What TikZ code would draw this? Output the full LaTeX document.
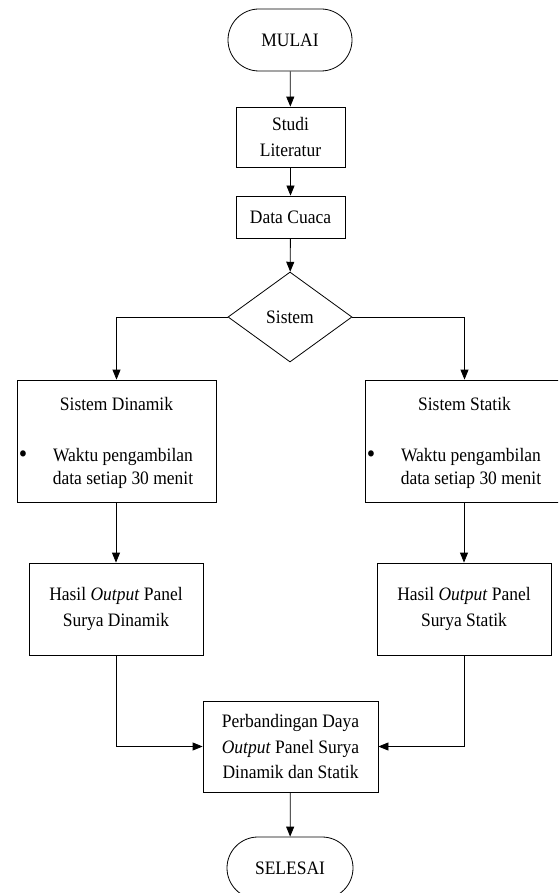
\documentclass[tikz,border=0pt]{standalone}
\usepackage{fontspec}
\setmainfont{Liberation Serif}[FakeStretch=0.92]
\usetikzlibrary{shapes.geometric,arrows.meta}
\begin{document}
\begin{tikzpicture}[x=1pt,y=-1pt,
  every node/.style={font=\fontsize{19}{23}\selectfont, inner sep=0pt},
  box/.style={draw, line width=0.8pt, rectangle, align=center},
  term/.style={draw, line width=0.8pt, rectangle, rounded corners=31pt, minimum width=124pt, minimum height=62pt},
  dec/.style={draw, line width=0.8pt, diamond, minimum width=124pt, minimum height=90pt},
  txt/.style={align=center, font=\fontsize{19}{25.5}\selectfont},
  bul/.style={font=\fontsize{26}{26}\selectfont},
  arr/.style={line width=0.8pt, -{Triangle[length=10pt,width=8pt]}},
  ln/.style={line width=0.8pt}]
\useasboundingbox (0,0) rectangle (558,893);
\clip (0,0) rectangle (558,893);

\node[term] (mulai) at (290,40) {MULAI};
\node[box, minimum width=109pt, minimum height=60pt, txt] (studi) at (290.5,137) {Studi\\Literatur};
\node[box, minimum width=109pt, minimum height=42pt] (data) at (290.5,217) {Data Cuaca};
\node[dec] (sistem) at (290,317) {Sistem};

\node[box, minimum width=199pt, minimum height=122pt] (din) at (116.5,441) {};
\node (dintitle) at (116.5,404) {Sistem Dinamik};
\node[bul] (dinbullet) at (23,457) {\textbullet};
\node[align=center] (dintext) at (123,468.5) {Waktu pengambilan\\data setiap 30 menit};

\node[box, minimum width=199pt, minimum height=122pt] (sta) at (464.5,441) {};
\node (statitle) at (464.5,404) {Sistem Statik};
\node[bul] (stabullet) at (371,457) {\textbullet};
\node[align=center] (statext) at (471,468.5) {Waktu pengambilan\\data setiap 30 menit};

\node[box, minimum width=174pt, minimum height=92pt, txt] (hasild) at (116,609) {Hasil \textit{Output} Panel\\Surya Dinamik};
\node[box, minimum width=174pt, minimum height=92pt, txt] (hasils) at (464,609) {Hasil \textit{Output} Panel\\Surya Statik};
\node[box, minimum width=175pt, minimum height=91pt, txt] (perb) at (290.5,746.5) {Perbandingan Daya\\\textit{Output} Panel Surya\\Dinamik dan Statik};
\node[term, minimum width=126pt] (selesai) at (290,868) {SELESAI};

\draw[arr] (mulai) -- (studi);
\draw[arr] (studi) -- (data);
\draw[arr] (data) -- (sistem);
\draw[arr] (sistem.west) -| (din.north);
\draw[arr] (sistem.east) -| (sta.north);
\draw[arr] (din.south -| hasild.north) -- (hasild.north);
\draw[arr] (sta.south -| hasils.north) -- (hasils.north);
\draw[arr] (hasild.south) |- (perb.west);
\draw[arr] (hasils.south) |- (perb.east);
\draw[arr] (perb) -- (selesai);
\end{tikzpicture}
\end{document}
